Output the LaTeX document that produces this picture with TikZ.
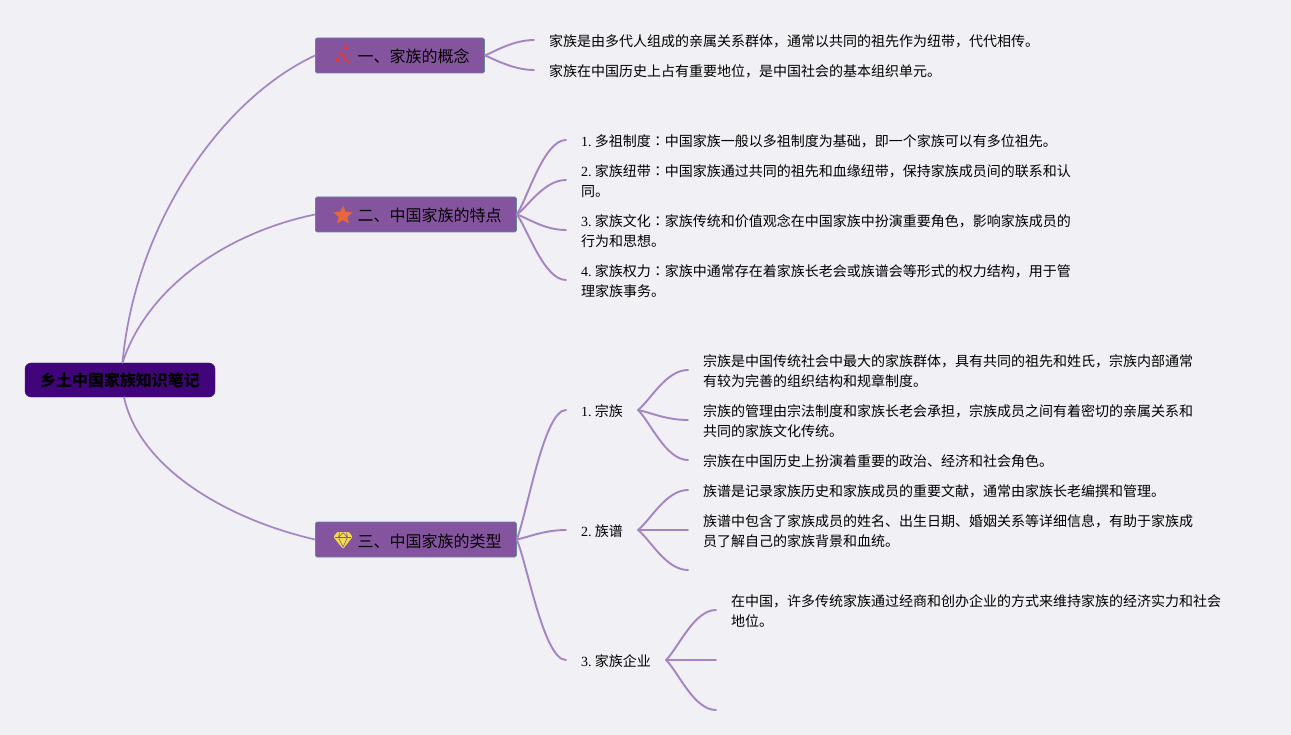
\documentclass[tikz,border=0pt]{standalone}
\usepackage{fontspec}
\setmainfont{Noto Sans CJK SC}
\newfontfamily\lat{Liberation Serif}
\newfontfamily\tcf{Noto Sans CJK TC}
\usetikzlibrary{shapes.geometric,calc}
\definecolor{bgc}{HTML}{F1F0F5}
\definecolor{boxc}{HTML}{85549F}
\definecolor{edgec}{HTML}{66859F}
\definecolor{rootc}{HTML}{42047A}
\definecolor{linec}{HTML}{A484C4}
\definecolor{redi}{HTML}{D93A3F}
\definecolor{stari}{HTML}{E5683A}
\definecolor{gemi}{HTML}{F2DC4A}
\tikzset{
  x=1pt,y=-1pt,
  rootbox/.style={draw=rootc,fill=rootc,rounded corners=6pt,minimum width=190pt,minimum height=34pt,inner sep=0pt,font=\fontsize{16}{18}\selectfont\bfseries,text=black},
  topicbox/.style={draw=edgec,line width=0.8pt,fill=boxc,rounded corners=1.5pt,minimum height=35pt,inner sep=0pt,anchor=west,font=\fontsize{16}{18}\selectfont,text=black},
  topictext/.style={anchor=west,inner sep=0pt,font=\fontsize{16}{18}\selectfont},
  leaf/.style={anchor=west,yshift=-0.5pt,inner xsep=15pt,inner ysep=0pt,align=left,font=\fontsize{14}{20}\selectfont,text=black},
  conn/.style={draw=linec,line width=1.9pt,line cap=round},
  rootconn/.style={draw=linec,line width=1.7pt,line cap=round},
}
\newcommand{\num}[1]{{\lat #1}\hspace{-1pt}}
\newcommand{\cln}{{\tcf ：}}
\newcommand{\mmconn}[3]{%
  \coordinate (S) at #1; \coordinate (E) at ($(#2)+(0,-1.5)$);
  \draw[conn] (S) .. controls ($(S)!#3!(E)$) and ($(E)+(-22,0)$) .. (E);}
\begin{document}
\begin{tikzpicture}
\fill[bgc] (0,0) rectangle (1291,735);
\useasboundingbox (0,0) rectangle (1291,735);
\node[rootbox] (root) at (120,380) {乡土中国家族知识笔记};
\node[topicbox,minimum width=169pt] (t1) at (315,55.5) {};
\node[topicbox,minimum width=201pt] (t2) at (315,214.5) {};
\node[topicbox,minimum width=201pt] (t3) at (315,539.5) {};
\node[topictext] (t1t) at (357.5,56) {一、家族的概念};
\node[topictext] (t2t) at (357.5,215.5) {二、中国家族的特点};
\node[topictext] (t3t) at (357.5,541) {三、中国家族的类型};
% icons
\draw[redi,line width=2pt,line cap=round] (340,53) -- (349,63);
\fill[redi] (337,60) circle (2.2pt) (346,48) circle (2.2pt) (350.5,54.5) circle (1.1pt);
\node[star,star points=5,star point ratio=2.2,fill=stari,inner sep=0pt,minimum size=20pt] (i2) at (343,215.5) {};
\fill[gemi,rounded corners=1pt] (337,532) -- (349,532) -- (352.5,537) -- (343,549) -- (333.5,537) -- cycle;
\draw[boxc,line width=0.6pt] (335,537.5) -- (351,537.5) (339.5,532.5) -- (338.5,537.5) -- (343,547) -- (347.5,537.5) -- (346.5,532.5) (343,532.5) -- (338.5,537.5) (343,532.5) -- (347.5,537.5);
% leaves
\node[leaf] (a1) at (534,41) {家族是由多代人组成的亲属关系群体，通常以共同的祖先作为纽带，代代相传。};
\node[leaf] (a2) at (534,71) {家族在中国历史上占有重要地位，是中国社会的基本组织单元。};
\node[leaf] (b1) at (566,141) {\num{1.} 多祖制度\cln 中国家族一般以多祖制度为基础，即一个家族可以有多位祖先。};
\node[leaf] (b2) at (566,181) {\num{2.} 家族纽带\cln 中国家族通过共同的祖先和血缘纽带，保持家族成员间的联系和认\\同。};
\node[leaf] (b3) at (566,231) {\num{3.} 家族文化\cln 家族传统和价值观念在中国家族中扮演重要角色，影响家族成员的\\行为和思想。};
\node[leaf] (b4) at (566,281) {\num{4.} 家族权力\cln 家族中通常存在着家族长老会或族谱会等形式的权力结构，用于管\\理家族事务。};
\node[leaf] (c1) at (566,411) {\num{1.} 宗族};
\node[leaf] (c2) at (566,531) {\num{2.} 族谱};
\node[leaf] (c3) at (566,661) {\num{3.} 家族企业};
\node[leaf] (d1) at (688,371) {宗族是中国传统社会中最大的家族群体，具有共同的祖先和姓氏，宗族内部通常\\有较为完善的组织结构和规章制度。};
\node[leaf] (d2) at (688,421) {宗族的管理由宗法制度和家族长老会承担，宗族成员之间有着密切的亲属关系和\\共同的家族文化传统。};
\node[leaf] (d3) at (688,461) {宗族在中国历史上扮演着重要的政治、经济和社会角色。};
\node[leaf] (e1) at (688,491) {族谱是记录家族历史和家族成员的重要文献，通常由家族长老编撰和管理。};
\node[leaf] (e2) at (688,531) {族谱中包含了家族成员的姓名、出生日期、婚姻关系等详细信息，有助于家族成\\员了解自己的家族背景和血统。};
\coordinate (e3) at (688,571.5);
\node[leaf] (f1) at (716,611) {在中国，许多传统家族通过经商和创办企业的方式来维持家族的经济实力和社会\\地位。};
\coordinate (f2) at (716,661.5);
\coordinate (f3) at (716,711.5);
% root connectors
\coordinate (rn) at ($(root.north)+(2.5,0)$);
\coordinate (rs) at ($(root.south)+(4,0)$);
\draw[rootconn] (rn) .. controls (135,225) and (220,100) .. (t1.west);
\draw[rootconn] (rn) .. controls (148,285) and (230,232) .. (t2.west);
\draw[rootconn] (rs) .. controls (140,470) and (230,520) .. (t3.west);
% branches
\foreach \t in {a1,a2}{\mmconn{(t1.east)}{\t.west}{.12}}
\foreach \t in {b1,b2,b3,b4}{\mmconn{(t2.east)}{\t.west}{.22}}
\foreach \t in {c1,c2,c3}{\mmconn{(t3.east)}{\t.west}{.22}}
\foreach \t in {d1.west,d2.west,d3.west}{\mmconn{($(c1.east)+(0,-1.5)$)}{\t}{.25}}
\foreach \t in {e1.west,e2.west,e3.center}{\mmconn{($(c2.east)+(0,-1.5)$)}{\t}{.25}}
\foreach \t in {f1.west,f2.center,f3.center}{\mmconn{($(c3.east)+(0,-1.5)$)}{\t}{.25}}
\end{tikzpicture}
\end{document}
